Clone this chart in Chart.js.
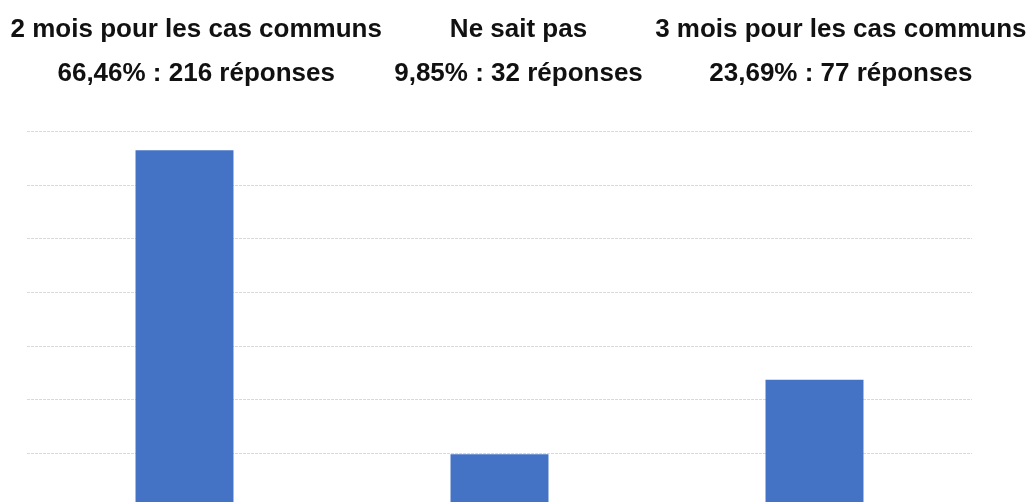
<!DOCTYPE html>
<html>
<head>
<meta charset="utf-8">
<script src="https://cdn.jsdelivr.net/npm/chart.js@4"></script>
<style>
html,body{margin:0;padding:0;background:#fff;overflow:hidden;}
#wrap{width:1031px;height:513px;margin-top:-6px;position:relative;}
</style>
</head>
<body>
<div id="wrap"><canvas id="c"></canvas></div>
<script>
const categories = ["2 mois pour les cas communs", "Ne sait pas", "3 mois pour les cas communs"];
const percentages = [66.46, 9.85, 23.69];
const responses = [216, 32, 77];
const percentLabels = ["66,46%", "9,85%", "23,69%"];
const yTicks = [0, 10, 20, 30, 40, 50, 60, 70];

const ctx = document.getElementById('c');
new Chart(ctx, {
  type: 'bar',
  data: {
    labels: categories,
    datasets: [{
      data: percentages,
      backgroundColor: '#4472C4',
      borderWidth: 0,
      categoryPercentage: 1,
      barPercentage: 0.311,
      xAxisID: 'x',
      yAxisID: 'y'
    }]
  },
  options: {
    responsive: true,
    maintainAspectRatio: false,
    animation: false,
    events: [],
    layout: { padding: { left: 27, right: 59, top: -21.5, bottom: 0 } },
    plugins: { legend: { display: false }, tooltip: { enabled: false } },
    scales: {
      x: { display: false },
      xt: {
        type: 'linear',
        position: 'top',
        offset: false,
        bounds: 'data',
        min: -0.525,
        max: 2.407,
        afterBuildTicks: (s) => { s.ticks = categories.map((_, i) => ({ value: i })); },
        afterFit: (s) => { s.paddingLeft = 0; s.paddingRight = 0; },
        grid: { display: false, drawTicks: false, offset: false },
        border: { display: false },
        ticks: {
          autoSkip: false,
          maxRotation: 0,
          minRotation: 0,
          padding: 36,
          color: '#111',
          font: { family: '"Liberation Sans", Arial, sans-serif', size: 26, weight: 'bold', lineHeight: 1.67 },
          callback: (v) => {
            const i = Math.round(v);
            return [categories[i], percentLabels[i] + ' : ' + responses[i] + ' réponses'];
          }
        }
      },
      y: {
        min: yTicks[0],
        max: yTicks[yTicks.length - 1],
        afterBuildTicks: (s) => { s.ticks = yTicks.map(v => ({ value: v })); },
        grid: { color: '#d9d9d9', lineWidth: 1, drawTicks: false },
        border: { display: false, dash: [3, 1] },
        ticks: { display: false }
      }
    }
  }
});
</script>
</body>
</html>
